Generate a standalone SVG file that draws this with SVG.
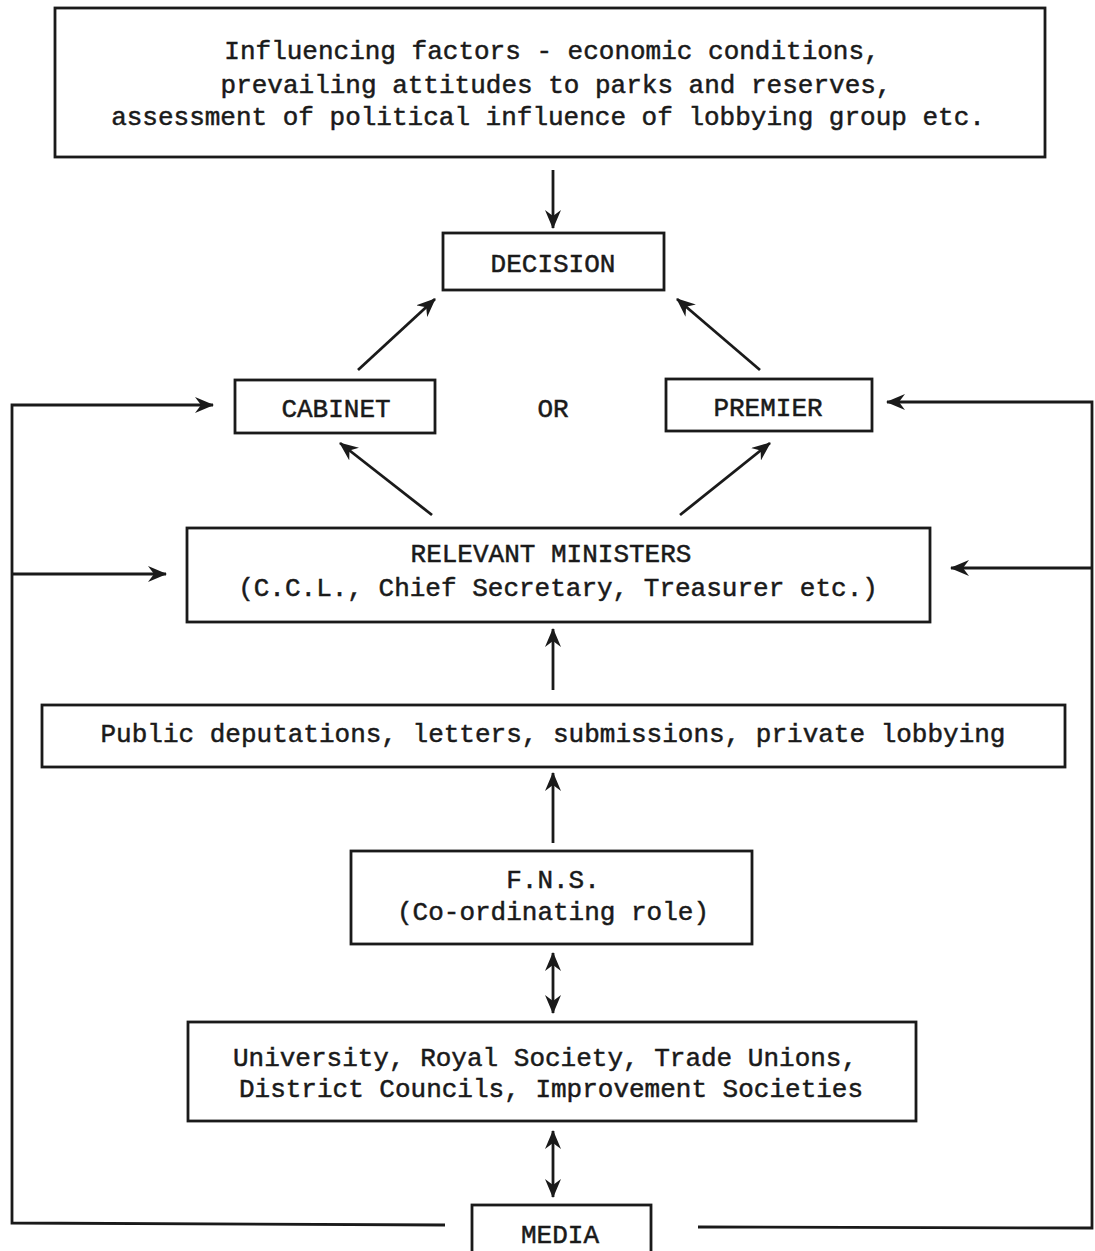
<svg xmlns="http://www.w3.org/2000/svg" width="1095" height="1251" viewBox="0 0 1095 1251">
<defs>
<style>
.box{fill:#fff;stroke:#1a1a1a;stroke-width:2.8}
.t{font-family:"Liberation Mono","DejaVu Sans Mono",monospace;font-size:26px;fill:#1a1a1a;stroke:#1a1a1a;stroke-width:0.5;text-anchor:middle}
.c{fill:none;stroke:#1a1a1a;stroke-width:2.8}
.a{marker-end:url(#ah)}
.d{marker-end:url(#ah);marker-start:url(#ah)}
</style>
<marker id="ah" markerUnits="userSpaceOnUse" markerWidth="20" markerHeight="16" refX="18" refY="8" orient="auto-start-reverse">
<path d="M0,0 L19,8 L0,16 L6,8 z" fill="#1a1a1a"/>
</marker>
</defs>
<rect width="1095" height="1251" fill="#fff"/>
<g id="connectors">
<path class="c a" d="M553,170 L553,228"/>
<path class="c a" d="M358,370 L435,299"/>
<path class="c a" d="M760,370 L677,299"/>
<path class="c a" d="M432,515 L340,443"/>
<path class="c a" d="M680,515 L770,443"/>
<path class="c a" d="M553,690 L553,629"/>
<path class="c a" d="M553,843 L553,773"/>
<path class="c d" d="M553,953 L553,1013"/>
<path class="c d" d="M553,1131 L553,1197"/>
<path class="c a" d="M445,1225 L12,1223 L12,405 L213,405"/>
<path class="c a" d="M12,574 L166,574"/>
<path class="c a" d="M698,1227 L1092,1228 L1092,402 L887,402"/>
<path class="c a" d="M1092,568 L951,568"/>
</g>
<g id="influencing">
<rect class="box" x="55" y="8" width="990" height="149"/>
<text class="t" x="552" y="59">Influencing factors - economic conditions,</text>
<text class="t" x="556" y="93">prevailing attitudes to parks and reserves,</text>
<text class="t" x="548" y="125">assessment of political influence of lobbying group etc.</text>
</g>
<g id="decision">
<rect class="box" x="443" y="233" width="221" height="57"/>
<text class="t" x="553" y="272">DECISION</text>
</g>
<g id="cabinet">
<rect class="box" x="235" y="380" width="200" height="53"/>
<text class="t" x="336" y="417">CABINET</text>
</g>
<g id="or">
<text class="t" x="553" y="417">OR</text>
</g>
<g id="premier">
<rect class="box" x="666" y="379" width="206" height="52"/>
<text class="t" x="768" y="416">PREMIER</text>
</g>
<g id="ministers">
<rect class="box" x="187" y="528" width="743" height="94"/>
<text class="t" x="551" y="562">RELEVANT MINISTERS</text>
<text class="t" x="558" y="596">(C.C.L., Chief Secretary, Treasurer etc.)</text>
</g>
<g id="public">
<rect class="box" x="42" y="705" width="1023" height="62"/>
<text class="t" x="553" y="742">Public deputations, letters, submissions, private lobbying</text>
</g>
<g id="fns">
<rect class="box" x="351" y="851" width="401" height="93"/>
<text class="t" x="553" y="888">F.N.S.</text>
<text class="t" x="553" y="920">(Co-ordinating role)</text>
</g>
<g id="groups">
<rect class="box" x="188" y="1022" width="728" height="99"/>
<text class="t" x="545" y="1066">University, Royal Society, Trade Unions,</text>
<text class="t" x="551" y="1097">District Councils, Improvement Societies</text>
</g>
<g id="media">
<rect class="box" x="472" y="1205" width="179" height="60"/>
<text class="t" x="560" y="1243">MEDIA</text>
</g>
</svg>
